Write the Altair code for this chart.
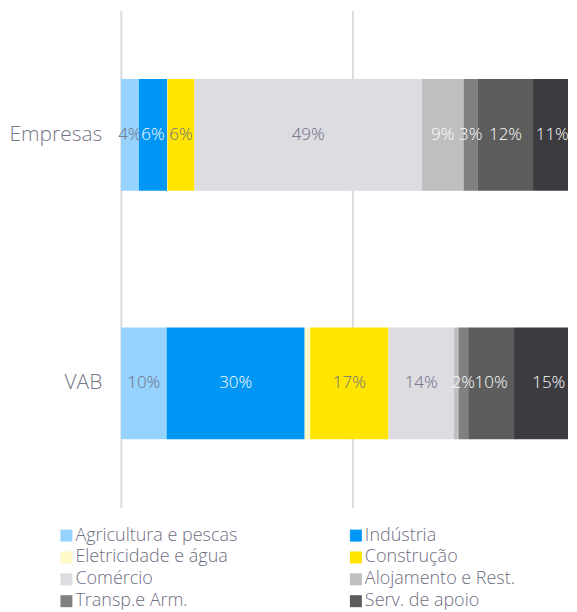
import altair as alt
import pandas as pd

categorias = ["Empresas", "VAB"]
setores = [
    "Agricultura e pescas",
    "Indústria",
    "Eletricidade e água",
    "Construção",
    "Comércio",
    "Alojamento e Rest.",
    "Transp.e Arm.",
    "Serv. de apoio",
    "Outros serviços",
]
empresas = [3.9, 6.1, 0.1, 5.8, 49.1, 9.0, 3.1, 11.9, 11.1]
vab = [9.9, 29.8, 1.2, 16.9, 14.1, 1.0, 2.1, 9.9, 15.0]
cores = ["#97d3ff", "#0096f5", "#fff8c8", "#ffe500", "#dcdce1",
         "#bfbfbf", "#808080", "#5c5c5c", "#3c3b40"]
setores_texto_branco = ["Indústria", "Alojamento e Rest.", "Transp.e Arm.",
                        "Serv. de apoio", "Outros serviços"]
# legend shown in two columns, filled column by column
legenda = ["Agricultura e pescas", "Eletricidade e água", "Comércio", "Transp.e Arm.",
           "Indústria", "Construção", "Alojamento e Rest.", "Serv. de apoio"]

rows = []
for cat, vals in zip(categorias, [empresas, vab]):
    for i, (s, v) in enumerate(zip(setores, vals)):
        rows.append({"cat": cat, "setor": s, "ordem": i, "valor": v})
df = pd.DataFrame(rows)

FONT = "Open Sans"
W = 300
GRAY = "#6f6e82"
XMAX = 96.55  # visible part of the 0-100 axis (chart is cut at the right edge)

base = alt.Chart(df).transform_stack(
    stack="valor", groupby=["cat"], sort=[alt.SortField("ordem", order="ascending")],
    as_=["x0", "x1"]
)

yenc = alt.Y(
    "cat:N", sort=categorias,
    scale=alt.Scale(paddingInner=0.55, paddingOuter=0.275),
    axis=alt.Axis(title=None, ticks=False, domain=False, labelFontSize=21,
                  labelColor="#767588", labelPadding=19, minExtent=113, maxExtent=113,
                  labelFont=FONT, labelFontWeight=W, grid=False),
)

bars = base.mark_bar(clip=True).encode(
    x=alt.X("x0:Q", scale=alt.Scale(domain=[0, XMAX], nice=False, zero=True),
            axis=alt.Axis(values=[0, 50], labels=False, ticks=False, domain=False,
                          title=None, grid=True, gridColor="#dcdce0", gridWidth=2)),
    x2="x1:Q",
    y=yenc,
    color=alt.Color(
        "setor:N", sort=setores,
        scale=alt.Scale(domain=setores, range=cores),
        legend=alt.Legend(
            title=None, orient="none", legendX=-63.5, legendY=517, columns=2,
            values=legenda, symbolType="square", symbolSize=144,
            symbolStrokeWidth=0, labelFontSize=18, labelColor=GRAY, labelFont=FONT,
            labelFontWeight=W, rowPadding=3.9, columnPadding=109, labelOffset=0,
            padding=0, labelLimit=300,
        ),
    ),
    order=alt.Order("ordem:Q"),
)

labels = base.transform_filter("datum.valor >= 1.5").transform_calculate(
    mid=f"min((datum.x0 + datum.x1) / 2, {XMAX} - 3.4)",
    rot="format(round(datum.valor), 'd') + '%'",
).mark_text(fontSize=17, font=FONT, fontWeight=W, baseline="middle", align="center").encode(
    x="mid:Q",
    y=alt.Y("cat:N", sort=categorias),
    text="rot:N",
    color=alt.condition(
        alt.FieldOneOfPredicate(field="setor", oneOf=setores_texto_branco),
        alt.value("white"), alt.value(GRAY)),
)

chart = (bars + labels).properties(
    width=448, height=498,
    padding={"top": 2, "left": 0, "right": 0, "bottom": 0},
).configure_view(stroke=None)

chart.save("out.html", embed_options={"renderer": "svg", "actions": False})
